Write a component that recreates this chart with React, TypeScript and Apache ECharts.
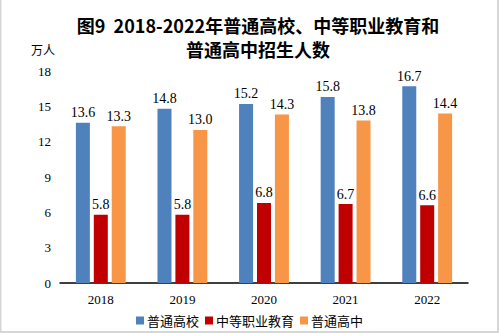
import React, { useEffect, useRef } from "react";
import * as echarts from "echarts";

const years = ["2018", "2019", "2020", "2021", "2022"];
const higherEdu = [13.6, 14.8, 15.2, 15.8, 16.7];
const vocational = [5.8, 5.8, 6.8, 6.7, 6.6];
const highSchool = [13.3, 13.0, 14.3, 13.8, 14.4];
const seriesNames = ["普通高校", "中等职业教育", "普通高中"];
const yTicks = { min: 0, max: 18, interval: 3 };

const serif = "Liberation Serif";
const cjk = "Noto Sans CJK SC";

export default function App() {
  const ref = useRef<HTMLDivElement>(null);
  useEffect(() => {
    if (!ref.current) return;
    document.body.style.margin = "0";
    const chart = echarts.init(ref.current, null, { renderer: "svg" });
    const label = {
      show: true,
      position: "top" as const,
      distance: 3,
      color: "#000",
      fontFamily: serif,
      fontSize: 14,
      formatter: (p: any) => Number(p.value).toFixed(1),
    };
    const mk = (name: string, data: number[], color: string) => ({
      name,
      type: "bar",
      data,
      barWidth: 14,
      barGap: "28%",
      itemStyle: { color },
      label,
    });
    chart.setOption({
      animation: false,
      backgroundColor: "#fff",
      title: {
        text: "图9  2018-2022年普通高校、中等职业教育和\n普通高中招生人数",
        left: 253,
        textAlign: "center",
        top: 8,
        textStyle: {
          fontFamily: cjk,
          fontWeight: "bold",
          fontSize: 18,
          lineHeight: 24,
          color: "#000",
        },
      },
      graphic: [
        {
          type: "text",
          left: 31,
          top: 43,
          style: { text: "万人", fontFamily: cjk, fontSize: 12, fill: "#000" },
        },
        { type: "line", shape: { x1: 0.5, y1: 0, x2: 0.5, y2: 333 }, style: { stroke: "#d6d6d6", lineWidth: 2 } },
        { type: "line", shape: { x1: 498, y1: 0, x2: 498, y2: 333 }, style: { stroke: "#d6d6d6", lineWidth: 2 } },
        { type: "line", shape: { x1: 0, y1: 332, x2: 499, y2: 332 }, style: { stroke: "#d6d6d6", lineWidth: 2 } },
      ],
      legend: {
        data: seriesNames,
        left: "center",
        top: 309,
        itemWidth: 8,
        itemHeight: 8,
        itemGap: 6,
        icon: "rect",
        textStyle: { fontFamily: cjk, fontSize: 13, color: "#000", padding: [0, 0, 0, -2] },
      },
      grid: { left: 60, right: 31, top: 71, bottom: 50, containLabel: false },
      xAxis: {
        type: "category",
        data: years,
        axisLine: { lineStyle: { color: "#000", width: 1.5 } },
        axisTick: { show: false },
        axisLabel: { fontFamily: serif, fontSize: 13, color: "#000", margin: 10 },
      },
      yAxis: {
        type: "value",
        min: yTicks.min,
        max: yTicks.max,
        interval: yTicks.interval,
        axisLine: { show: false },
        axisTick: { show: false },
        splitLine: { show: false },
        axisLabel: { fontFamily: serif, fontSize: 13, color: "#000", margin: 9 },
      },
      series: [
        mk(seriesNames[0], higherEdu, "#4F81BD"),
        mk(seriesNames[1], vocational, "#C00000"),
        mk(seriesNames[2], highSchool, "#F79646"),
      ],
    });
    return () => chart.dispose();
  }, []);
  return <div ref={ref} style={{ width: 499, height: 333, position: "absolute", left: 0, top: 0 }} />;
}
